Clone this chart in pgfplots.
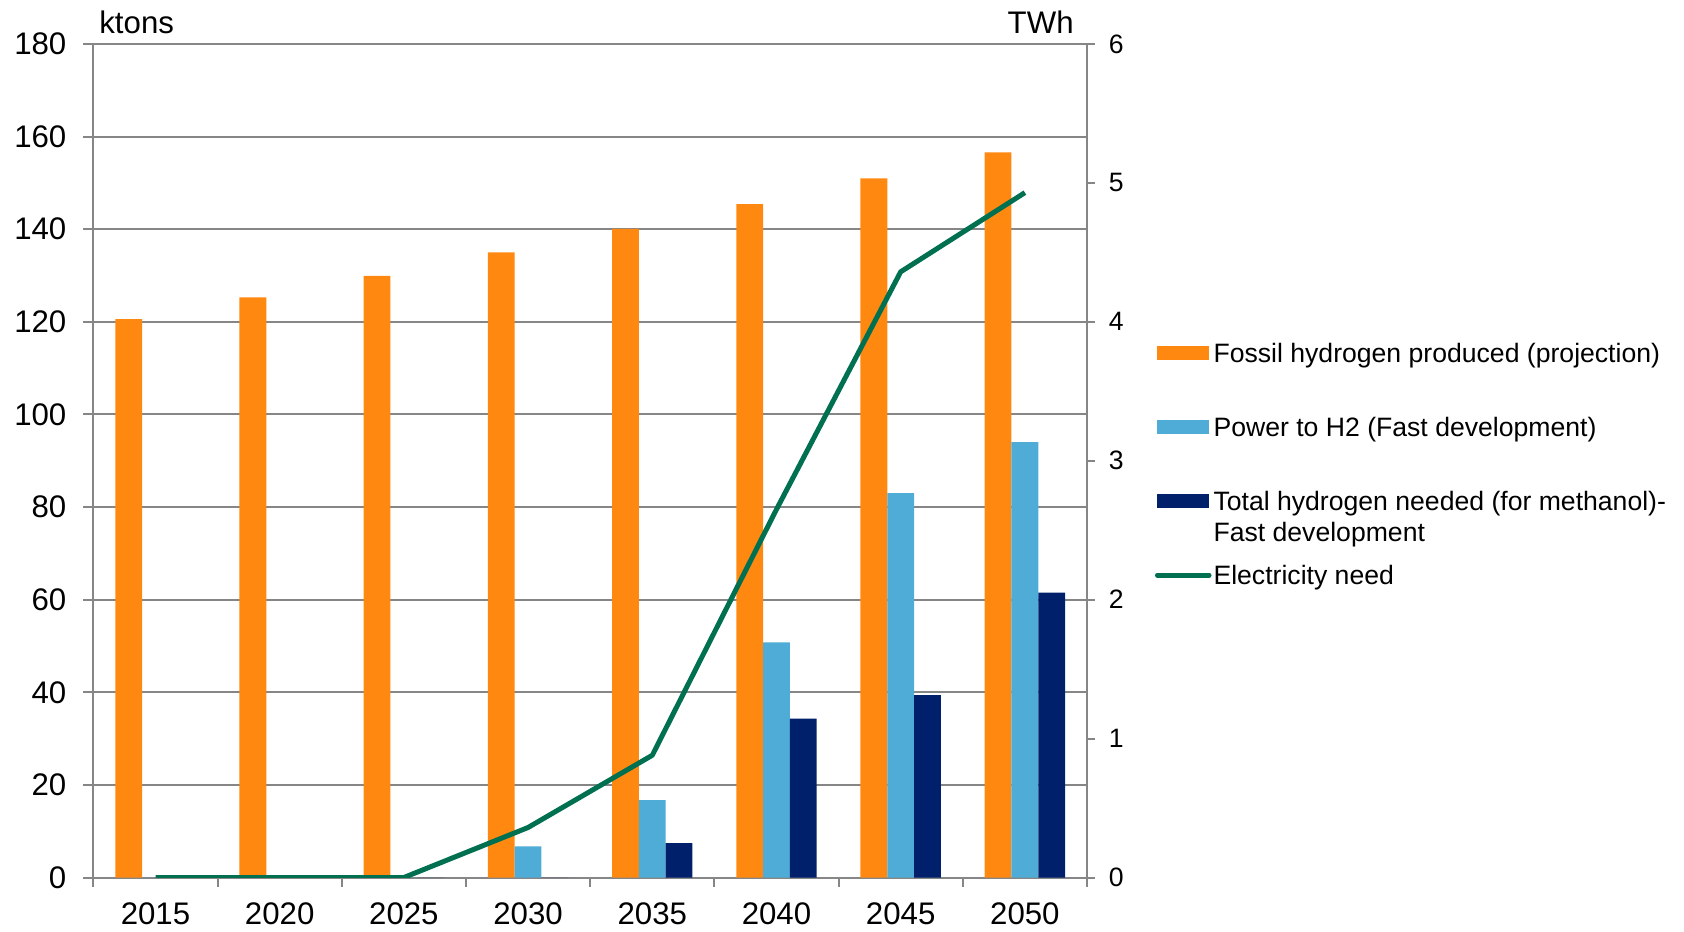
\documentclass[border=0pt]{standalone}
\usepackage{pgfplots}
\pgfplotsset{compat=1.18}
\usepackage{fontspec}
\setmainfont{Liberation Sans}

\definecolor{fossil}{RGB}{255,136,17}
\definecolor{ptoh}{RGB}{79,172,214}
\definecolor{total}{RGB}{0,32,108}
\definecolor{elec}{RGB}{0,112,80}
\definecolor{axgray}{RGB}{134,134,134}

\newcommand{\bigfont}{\fontsize{15.6}{18.7}\selectfont}
\newcommand{\legfont}{\fontsize{13.3}{15.6}\selectfont}

\begin{document}
\begin{tikzpicture}
\useasboundingbox (-46.7pt,-26.75pt) rectangle (795.3pt,438.75pt);

% left axis: bars in ktons
\begin{axis}[
  scale only axis, width=496.8pt, height=416.75pt,
  clip=false,
  ybar=0pt, bar width=13.4pt,
  xmin=-0.5, xmax=7.5, ymin=0, ymax=180,
  xtick={0,...,7},
  xticklabels={2015,2020,2025,2030,2035,2040,2045,2050},
  major x tick style={draw=none},
  minor xtick={-0.5,0.5,...,7.5},
  minor tick length=4.5pt,
  ytick={0,20,...,180},
  xtick pos=bottom, ytick pos=left,
  tick align=outside, major tick length=5pt,
  tick style={axgray, line width=1pt},
  axis line style={axgray, line width=1pt},
  ymajorgrids, major grid style={axgray, line width=1pt},
  /pgf/number format/assume math mode=true,
  tick label style={font=\bigfont},
  xticklabel shift=4pt, yticklabel shift=5pt,
  legend style={at={(1.068,0.65)}, anchor=north west, draw=none, fill=none,
    inner sep=0pt, row sep=20pt, font=\legfont,
    nodes={inner sep=1pt, text height=12pt, text depth=3pt}},
  legend cell align=left,
]
\addplot[fill=fossil, draw=none,
  legend image code/.code={\fill[fossil] (0pt,-3.5pt) rectangle (25.8pt,3.5pt);}]
  coordinates {(0,120.6) (1,125.3) (2,129.9) (3,135.0) (4,140.1) (5,145.4) (6,151.0) (7,156.6)};
\addlegendentry{Fossil hydrogen produced (projection)}
\addplot[fill=ptoh, draw=none,
  legend image code/.code={\fill[ptoh] (0pt,-3.5pt) rectangle (25.8pt,3.5pt);}]
  coordinates {(0,0) (1,0) (2,0) (3,6.7) (4,16.7) (5,50.8) (6,83.0) (7,94.0)};
\addlegendentry{Power to H2 (Fast development)}
\addplot[fill=total, draw=none,
  legend image code/.code={\fill[total] (0pt,-3.5pt) rectangle (25.8pt,3.5pt);}]
  coordinates {(0,0) (1,0) (2,0) (3,0) (4,7.4) (5,34.3) (6,39.4) (7,61.5)};
\addlegendentry{\begin{tabular}[t]{@{}l@{}}Total hydrogen needed (for methanol)-\\Fast development\end{tabular}}
\addlegendimage{legend image code/.code={\draw[elec, line width=2.5pt, line cap=round] (0pt,0pt) -- (25.8pt,0pt);}}
\addlegendentry{Electricity need}

\node[anchor=base west, inner sep=0pt, font=\bigfont] at ([xshift=2.8pt,yshift=5.2pt]rel axis cs:0,1) {ktons};
\node[anchor=base east, inner sep=0pt, font=\bigfont] at ([xshift=-6.5pt,yshift=5.2pt]rel axis cs:1,1) {TWh};
\end{axis}

% right axis: electricity in TWh
\begin{axis}[
  scale only axis, width=496.8pt, height=416.75pt,
  xmin=-0.5, xmax=7.5, ymin=0, ymax=6,
  axis x line=none, axis y line*=right,
  ytick={0,...,6},
  tick align=outside, major tick length=4pt,
  tick style={axgray, line width=1pt},
  axis line style={axgray, line width=1pt},
  /pgf/number format/assume math mode=true,
  tick label style={font=\legfont},
  yticklabel shift=3.4pt,
]
\addplot[elec, line width=2.5pt, line join=round]
  coordinates {(0,0) (1,0) (2,0) (3,0.36) (4,0.88) (5,2.65) (6,4.36) (7,4.93)};
\end{axis}
\end{tikzpicture}
\end{document}
